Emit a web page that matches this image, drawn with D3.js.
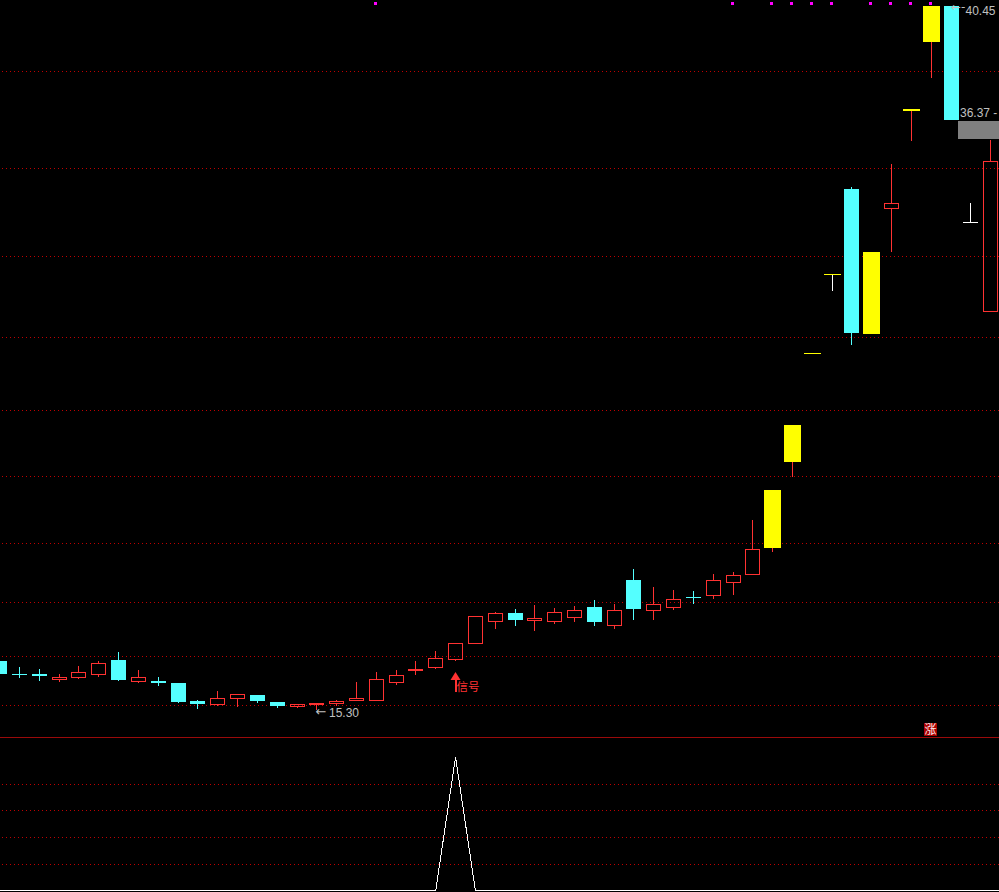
<!DOCTYPE html>
<html>
<head>
<meta charset="utf-8">
<script src="https://cdnjs.cloudflare.com/ajax/libs/d3/7.8.5/d3.min.js"></script>
<style>html,body{margin:0;padding:0;background:#000;overflow:hidden}svg{display:block}</style>
</head>
<body>
<script>
const highs=[17.06,16.84,16.77,16.59,16.88,17.06,17.38,16.73,16.48,16.27,15.66,15.99,15.88,15.84,15.59,15.52,15.56,15.66,16.31,16.66,16.73,17.06,17.41,17.70,18.66,18.81,18.91,19.06,18.95,19.02,19.24,19.09,20.34,19.70,19.59,19.56,20.16,20.24,22.09,23.16,25.49,28.06,30.88,33.99,31.66,34.81,36.78,40.45,40.45,33.41,35.66];
const opens=[17.06,16.59,16.59,16.38,16.45,16.56,17.09,16.31,16.34,16.27,15.63,15.49,15.70,15.84,15.59,15.41,15.49,15.52,15.63,15.63,16.27,16.70,16.81,17.09,17.66,18.45,18.77,18.49,18.45,18.59,18.99,18.31,19.95,18.84,18.95,19.34,19.38,19.84,20.13,21.09,24.16,28.06,30.88,33.91,28.74,33.20,36.70,39.16,40.45,32.74,29.52];
const closes=[16.59,16.56,16.52,16.48,16.66,16.98,16.38,16.48,16.27,15.59,15.52,15.74,15.88,15.63,15.45,15.52,15.56,15.63,15.74,16.41,16.56,16.77,17.16,17.70,18.66,18.77,18.52,18.59,18.81,18.88,18.45,18.88,18.91,19.09,19.27,19.34,19.95,20.13,21.06,23.16,25.49,28.06,30.88,28.77,31.66,33.41,36.78,40.45,36.37,32.74,34.91];
const lows=[16.59,16.45,16.34,16.31,16.41,16.48,16.34,16.27,16.16,15.56,15.34,15.45,15.41,15.56,15.38,15.38,15.30,15.45,15.63,15.63,16.20,16.56,16.77,17.06,17.66,18.20,18.31,18.13,18.38,18.45,18.31,18.20,18.52,18.52,18.88,19.09,19.27,19.41,20.13,20.95,23.63,28.06,30.27,28.34,28.74,31.66,35.63,37.88,36.37,32.74,29.52];
const limitBars=[39,40,41,42,44,46,47];
const whiteBars=[49];
const whiteWicks=[42,49];
const redWicksOnLimit=[39,40,46,47];
const signalMarks=[19,37,39,40,41,42,44,45,46,47];
const gridPrices=[38.13,34.66,31.52,28.63,26.02,23.66,21.27,19.16,17.23,15.49];
const indicator=[0,0,0,0,0,0,0,0,0,0,0,0,0,0,0,0,0,0,0,0,0,0,0,100,0,0,0,0,0,0,0,0,0,0,0,0,0,0,0,0,0,0,0,0,0,0,0,0,0,0,0];
const indicatorGrid=[20,40,60,80];
const labelHigh="40.45", labelLow="15.30", labelClose="36.37", signalText="信号", badgeText="涨";

const W=999,H=892;
const RED="#ff3232",CYAN="#54ffff",YEL="#ffff00",WHITE="#ffffff",GRAY="#c0c0c0",GRID="#c00000";
const svg=d3.select("body").append("svg").attr("width",W).attr("height",H).style("background","#000");
const x=d3.scaleLinear().domain([0,50]).range([-0.3,990.7]);
const y=d3.scaleLinear().domain([15.30,40.45]).range([710.2,6]);
const iy=d3.scaleLinear().domain([0,100]).range([890.5,757]);
const Y=p=>Math.round(y(p));
const L=i=>Math.floor(x(i)-7);
const crisp=g=>g.attr("shape-rendering","crispEdges");

// dotted grid lines
const grid=svg.append("g").call(crisp);
function dots(rows){
  rows.forEach(r=>{
    grid.selectAll(null).data(d3.range(2,W,4)).join("rect")
      .attr("x",d=>d).attr("y",r).attr("width",1).attr("height",1).attr("fill",GRID);
  });
}
dots(gridPrices.map(Y));
dots(indicatorGrid.map(v=>Math.round(iy(v))));
svg.append("rect").attr("x",0).attr("y",737).attr("width",W).attr("height",1).attr("fill","#9a0a0a").call(crisp);

// signal markers
svg.append("g").call(crisp).selectAll("rect").data(signalMarks).join("rect")
  .attr("x",i=>L(i)+5).attr("y",2).attr("width",3).attr("height",3).attr("fill","#ff00ff");

// candles
const candles=d3.range(highs.length).map(i=>({i,h:highs[i],o:opens[i],c:closes[i],l:lows[i]}));
const layer=svg.append("g").call(crisp);
candles.forEach(d=>{
  const isLimit=limitBars.includes(d.i), isWhite=whiteBars.includes(d.i);
  const down=d.c<d.o, flat=d.c===d.o;
  const top=Y(Math.max(d.o,d.c)), bot=Y(Math.min(d.o,d.c));
  const hgt=Math.max(1,bot-top);
  const left=L(d.i);
  const w=isLimit?17:15;
  const bx=isLimit?left-1:left;
  const cx=left+7;
  const body=isWhite?WHITE:isLimit?YEL:(down||flat)?CYAN:RED;
  const wick=whiteWicks.includes(d.i)?WHITE:redWicksOnLimit.includes(d.i)?RED:isLimit?YEL:body;
  if(Y(d.h)<top) layer.append("rect").attr("x",cx).attr("y",Y(d.h)).attr("width",1).attr("height",top-Y(d.h)).attr("fill",wick);
  if(Y(d.l)>bot) layer.append("rect").attr("x",cx).attr("y",bot).attr("width",1).attr("height",Y(d.l)-bot).attr("fill",wick);
  if(body===RED && hgt>2){
    layer.append("rect").attr("x",bx+.5).attr("y",top+.5).attr("width",w-1).attr("height",hgt-1)
      .attr("fill","none").attr("stroke",RED).attr("stroke-width",1);
  }else{
    layer.append("rect").attr("x",bx).attr("y",top).attr("width",w).attr("height",hgt).attr("fill",body);
  }
});

// lower indicator
const line=d3.line().x((d,i)=>x(i)).y(d=>iy(d));
svg.append("path").attr("d",`M0,${iy(0)}L${x(0)},${iy(0)}`+line(indicator).replace(/^M/,"L")+`L${W},${iy(0)}`)
  .attr("fill","none").attr("stroke",WHITE).attr("stroke-width",1).attr("shape-rendering","crispEdges");

// price notes
function t(tx,ty,s,size,fill,fam,anchor){
  return svg.append("text").attr("x",tx).attr("y",ty).text(s)
    .attr("font-family",fam||"'Liberation Sans',Arial,sans-serif").attr("font-size",size).attr("fill",fill).attr("text-anchor",anchor||"start");
}
svg.append("rect").attr("x",958).attr("y",121).attr("width",41).attr("height",18).attr("fill","#808080").call(crisp);
t(965.5,15,labelHigh,12,GRAY);
t(951,11,"←-",12,GRAY,"'DejaVu Sans',sans-serif");
t(960,117,labelClose+" -",12,GRAY);
t(315.5,716,"←",13,GRAY,"'DejaVu Sans',sans-serif");
t(329,717,labelLow,12,GRAY);

// signal arrow
const ax=L(23)+7.5;
const arrow=svg.append("g");
arrow.append("path").attr("d",`M${ax},672L${ax+5},680H${ax-5}Z`).attr("fill",RED);
arrow.append("rect").attr("x",ax-.5).attr("y",678).attr("width",2).attr("height",14).attr("fill",RED).call(crisp);
t(456.5,691,signalText,11.5,RED,"'Noto Sans CJK SC',sans-serif");

// badge
svg.append("rect").attr("x",924).attr("y",723).attr("width",13).attr("height",13).attr("fill","#a80000").call(crisp);
t(930.5,734,badgeText,12,"#ffe8e8","'Noto Sans CJK SC',sans-serif","middle");
</script>
</body>
</html>
